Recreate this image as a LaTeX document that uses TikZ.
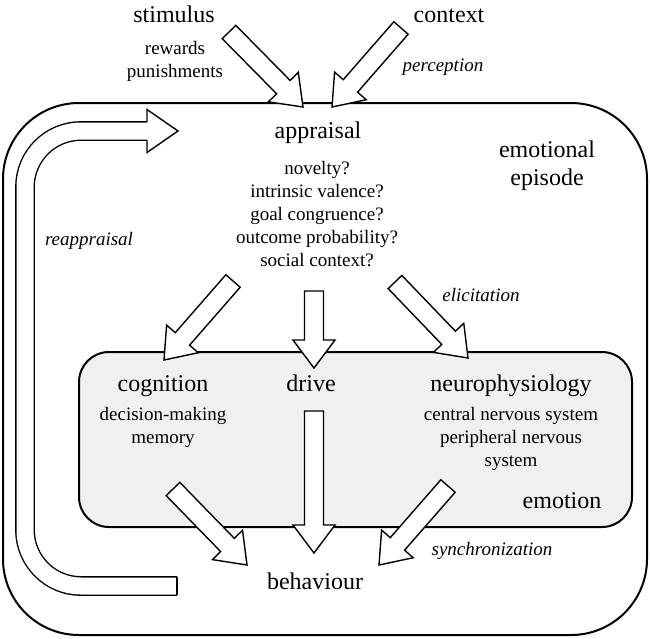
\documentclass[tikz,border=0pt]{standalone}
\usepackage{fontspec}
\setmainfont{Liberation Serif}
\usetikzlibrary{calc}
\tikzset{
    % Text
    big label/.style={font=\fontsize{24}{28}\selectfont, align=center, inner sep=0pt},
    small label/.style={font=\fontsize{19}{23}\selectfont, align=center, inner sep=0pt},
    italic label/.style={font=\fontsize{19}{23}\selectfont\itshape, inner sep=0pt},
    %
    % Boxes
    episode box/.style={line width=2pt, rounded corners=76pt},
    emotion box/.style={line width=2pt, rounded corners=30pt, fill=black!6},
    %
    % Arrows
    block arrow/.style={line width=1.4pt, fill=white, line join=miter},
    loop arrow/.style={line width=1.4pt, double=white, double distance=17pt, rounded corners=56pt}
}
\newcommand{\shaftw}{9.5pt}
\newcommand{\headw}{21pt}
\newcommand{\headl}{28pt}
% fat outlined arrow between two named coordinates
\newcommand{\blockarrow}[2]{%
    \coordinate (neck) at ($(#2)!\headl!(#1)$);
    \draw[block arrow] ($(#1)!\shaftw!90:(#2)$) -- ($(neck)!\shaftw!90:(#2)$)
        -- ($(neck)!\headw!90:(#2)$) -- (#2) -- ($(neck)!\headw!-90:(#2)$)
        -- ($(neck)!\shaftw!-90:(#2)$) -- ($(#1)!\shaftw!-90:(#2)$) -- cycle;
}

\begin{document}
\begin{tikzpicture}[x=1pt, y=-1pt]
    \useasboundingbox (0,0) rectangle (650,638);
    % boxes
    \draw[episode box] (3,103) rectangle (647,635);
    \draw[emotion box] (79,352) rectangle (632,527);

    % arrow ends
    \coordinate (stimtail) at (229,32);  \coordinate (stimtip) at (303,107);
    \coordinate (ctxtail) at (401,28);   \coordinate (ctxtip) at (332,107);
    \coordinate (cogtail) at (233,281);  \coordinate (cogtip) at (164,360);
    \coordinate (drvtail) at (314,291);  \coordinate (drvtip) at (314,368);
    \coordinate (neutail) at (395,282);  \coordinate (neutip) at (468,358);
    \coordinate (cbtail) at (173,489);   \coordinate (cbtip) at (247,565);
    \coordinate (dbtail) at (314,411);   \coordinate (dbtip) at (314,553);
    \coordinate (nbtail) at (448,486);   \coordinate (nbtip) at (379,565);
    \coordinate (looptail) at (177,586); \coordinate (loopneck) at (147,131);
    \coordinate (looptip) at (178,131);

    \blockarrow{stimtail}{stimtip}
    \blockarrow{ctxtail}{ctxtip}
    \blockarrow{cogtail}{cogtip}
    \blockarrow{drvtail}{drvtip}
    \blockarrow{neutail}{neutip}
    \blockarrow{cbtail}{cbtip}
    \blockarrow{dbtail}{dbtip}
    \blockarrow{nbtail}{nbtip}

    % reappraisal loop
    \draw[loop arrow] (looptail) -- (25,586) -- (25,131) -- (loopneck);
    \draw[line width=1.4pt, line cap=square] ($(looptail)+(0,-9.2)$) -- ($(looptail)+(0,9.2)$);
    \draw[block arrow] ($(loopneck)+(0,-9.2)$) -- ($(loopneck)+(0,-21.5)$) -- (looptip)
        -- ($(loopneck)+(0,21.5)$) -- ($(loopneck)+(0,9.2)$);

    % labels (base = baseline of the last line)
    \node[big label, anchor=base] (stimulus) at (174,22) {stimulus};
    \node[big label, anchor=base] (context) at (449,22) {context};
    \node[small label, anchor=base] (rewards) at (175,77) {rewards\\punishments};
    \node[italic label, anchor=base] (perception) at (443,71) {perception};
    \node[big label, anchor=base] (appraisal) at (318,138) {appraisal};
    \node[big label, anchor=base] (episode) at (547,185) {emotional\\episode};
    \node[small label, anchor=base] (checks) at (317,266) {novelty?\\intrinsic valence?\\goal congruence?\\outcome probability?\\social context?};
    \node[italic label, anchor=base] (reappraisal) at (89,245) {reappraisal};
    \node[italic label, anchor=base] (elicitation) at (481,301) {elicitation};
    \node[big label, anchor=base] (cognition) at (163,391) {cognition};
    \node[big label, anchor=base] (drive) at (311,391) {drive};
    \node[big label, anchor=base] (neuro) at (511,391) {neurophysiology};
    \node[small label, anchor=base] (cogitems) at (163,443) {decision-making\\memory};
    \node[small label, anchor=base] (neuroitems) at (511,466) {central nervous system\\peripheral nervous\\system};
    \node[big label, anchor=base] (emotion) at (562,508) {emotion};
    \node[italic label, anchor=base] (sync) at (492,555) {synchronization};
    \node[big label, anchor=base] (behaviour) at (315,589) {behaviour};
\end{tikzpicture}
\end{document}
